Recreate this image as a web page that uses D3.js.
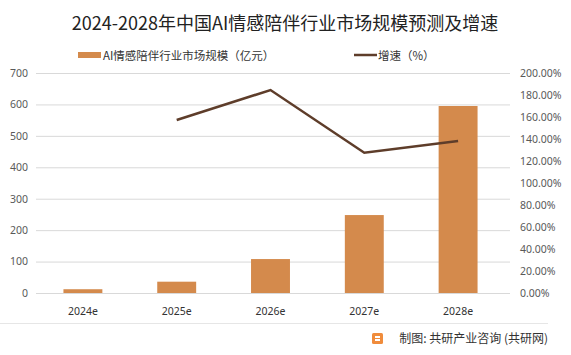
<!DOCTYPE html>
<html><head><meta charset="utf-8">
<script src="https://cdn.jsdelivr.net/npm/d3@7"></script>
<style>body{margin:0;background:#fff;}svg{display:block;font-family:"Noto Sans CJK SC","Noto Sans",sans-serif;}</style>
</head><body><svg id="c" width="571" height="355"></svg>
<script>
const categories = ["2024e","2025e","2026e","2027e","2028e"];
const marketSize = [12, 36, 108, 248, 595];
const growth = [null, 157.3, 184.5, 127.5, 138.2];
const leftTicks = [0,100,200,300,400,500,600,700];
const rightTicks = [0,20,40,60,80,100,120,140,160,180,200];
const title = "2024-2028年中国AI情感陪伴行业市场规模预测及增速";
const legendBar = "AI情感陪伴行业市场规模（亿元）";
const legendLine = "增速（%）";
const source = "制图: 共研产业咨询 (共研网)";

const svg = d3.select("#c");
const L = 36, R = 505, T = 73, B = 293;
const x = d3.scaleBand().domain(categories).range([L, R]).paddingInner(0.585).paddingOuter(0.2925);
const y = d3.scaleLinear().domain([0,700]).range([B,T]);
const y2 = d3.scaleLinear().domain([0,200]).range([B,T]);

svg.append("text").attr("x",285).attr("y",30).attr("text-anchor","middle")
  .attr("font-size",18).attr("fill","#222").text(title);

// legend
svg.append("rect").attr("x",78).attr("y",52).attr("width",23).attr("height",6).attr("fill","#d48a4c");
svg.append("text").attr("x",103).attr("y",60).attr("font-size",11.5).attr("fill","#333").text(legendBar);
svg.append("line").attr("x1",354).attr("x2",377).attr("y1",55).attr("y2",55).attr("stroke","#5e3d2a").attr("stroke-width",2.5);
svg.append("text").attr("x",378).attr("y",60).attr("font-size",11.5).attr("fill","#333").text(legendLine);

// grid
svg.append("g").selectAll("line").data(leftTicks).join("line")
  .attr("x1",L).attr("x2",510).attr("y1",d=>y(d)+0.5).attr("y2",d=>y(d)+0.5)
  .attr("stroke","#d9d9d9").attr("stroke-width",1);

// left axis
const ga = svg.append("g").attr("transform",`translate(${L-8},0)`)
  .call(d3.axisLeft(y).tickValues(leftTicks).tickSize(0).tickPadding(0));
ga.select(".domain").remove();
ga.selectAll("text").attr("font-size",10.5).attr("fill","#595959").attr("font-family","Noto Sans, sans-serif");

// right axis
const gr = svg.append("g").attr("transform",`translate(520,0)`)
  .call(d3.axisRight(y2).tickValues(rightTicks).tickSize(0).tickPadding(0).tickFormat(d=>d.toFixed(2)+"%"));
gr.select(".domain").remove();
gr.selectAll("text").attr("font-size",10.5).attr("fill","#595959").attr("font-family","Noto Sans, sans-serif");

// bars
svg.append("g").selectAll("rect").data(categories).join("rect")
  .attr("x",d=>x(d)).attr("width",x.bandwidth())
  .attr("y",(d,i)=>y(marketSize[i])).attr("height",(d,i)=>B-y(marketSize[i]))
  .attr("fill","#d48a4c");

// x labels
svg.append("g").selectAll("text").data(categories).join("text")
  .attr("x",d=>x(d)+x.bandwidth()/2).attr("y",315).attr("text-anchor","middle")
  .attr("font-size",10.5).attr("fill","#333").attr("font-family","Noto Sans, sans-serif").text(d=>d);

// line
const pts = categories.map((c,i)=>[c,growth[i]]).filter(d=>d[1]!=null);
svg.append("path").datum(pts)
  .attr("d",d3.line().x(d=>x(d[0])+x.bandwidth()/2).y(d=>y2(d[1])))
  .attr("fill","none").attr("stroke","#5e3d2a").attr("stroke-width",2.5);

// separator
svg.append("line").attr("x1",0).attr("x2",548).attr("y1",323.5).attr("y2",323.5).attr("stroke","#e6e6e6");

// source
const ic = svg.append("g").attr("transform","translate(372,333)");
ic.append("rect").attr("width",11).attr("height",11).attr("rx",1.5).attr("fill","#f08c3c");
ic.append("rect").attr("x",3).attr("y",3).attr("width",5).attr("height",2).attr("fill","#fff");
ic.append("rect").attr("x",3).attr("y",6).attr("width",5).attr("height",2).attr("fill","#fff");
svg.append("text").attr("x",548).attr("y",343).attr("text-anchor","end")
  .attr("font-size",12).attr("fill","#333").text(source);
</script></body></html>
